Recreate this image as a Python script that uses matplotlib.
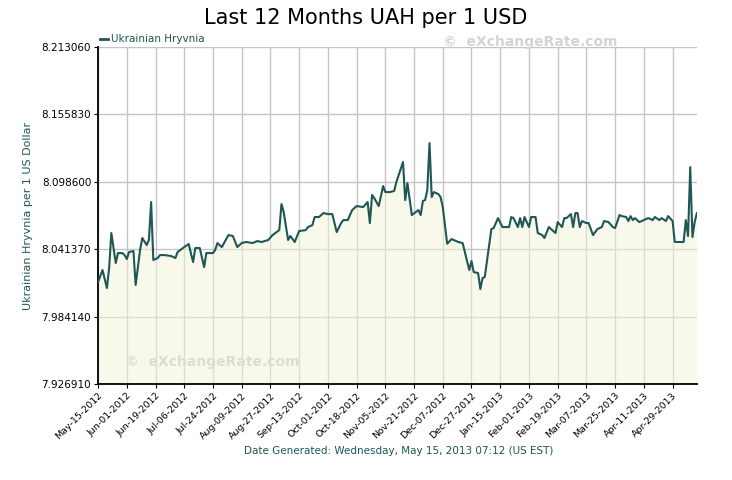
import numpy as np
import matplotlib
matplotlib.use('Agg')
import matplotlib.pyplot as plt

# session index (trading points) and UAH per USD rate
session = [0, 2, 4, 5, 6, 8, 9, 11, 12, 13, 14, 16, 17, 19, 20, 22, 23, 24, 25, 27,
           28, 30, 33, 35, 36, 39, 41, 43, 44, 46, 48, 49, 52, 53, 54, 56, 59, 61, 63, 65,
           67, 70, 72, 74, 77, 79, 82, 83, 84, 86, 87, 89, 91, 94, 95, 97, 98, 100, 102, 104,
           106, 108, 110, 111, 113, 115, 117, 120, 122, 123, 124, 125, 127, 129, 130, 132, 134, 135, 138, 139,
           140, 142, 145, 146, 147, 148, 149, 150, 151, 152, 154, 155, 156, 158, 160, 163, 165, 168, 169, 170,
           172, 173, 174, 175, 178, 179, 181, 183, 186, 187, 188, 190, 191, 192, 193, 195, 196, 198, 199, 201,
           202, 204, 207, 208, 210, 211, 212, 214, 215, 216, 217, 218, 219, 221, 222, 224, 226, 228, 229, 231,
           233, 234, 236, 237, 239, 240, 241, 242, 243, 245, 247, 249, 251, 252, 254, 255, 257, 258, 260, 261,
           265, 266, 267, 268, 269, 270, 271]
rate = [8.0135, 8.0237, 8.0084, 8.0254, 8.0551, 8.0296, 8.0381, 8.0381, 8.0364, 8.0330,
        8.0390, 8.0398, 8.0110, 8.0407, 8.0509, 8.0449, 8.0492, 8.0814, 8.0322, 8.0339,
        8.0364, 8.0364, 8.0356, 8.0339, 8.0390, 8.0432, 8.0458, 8.0305, 8.0424, 8.0424,
        8.0262, 8.0381, 8.0381, 8.0407, 8.0466, 8.0432, 8.0534, 8.0526, 8.0432, 8.0466,
        8.0475, 8.0466, 8.0483, 8.0475, 8.0492, 8.0534, 8.0576, 8.0797, 8.0729, 8.0492,
        8.0526, 8.0475, 8.0568, 8.0576, 8.0602, 8.0619, 8.0687, 8.0687, 8.0721, 8.0712,
        8.0712, 8.0559, 8.0636, 8.0661, 8.0661, 8.0746, 8.0780, 8.0772, 8.0814, 8.0636,
        8.0874, 8.0848, 8.0780, 8.0950, 8.0899, 8.0899, 8.0908, 8.0984, 8.1154, 8.0831,
        8.0975, 8.0704, 8.0746, 8.0704, 8.0823, 8.0831, 8.0916, 8.1315, 8.0857, 8.0899,
        8.0882, 8.0857, 8.0772, 8.0460, 8.0500, 8.0475, 8.0466, 8.0237, 8.0313, 8.0220,
        8.0211, 8.0076, 8.0169, 8.0177, 8.0585, 8.0593, 8.0678, 8.0602, 8.0602, 8.0687,
        8.0678, 8.0602, 8.0678, 8.0602, 8.0687, 8.0602, 8.0687, 8.0687, 8.0551, 8.0534,
        8.0509, 8.0602, 8.0551, 8.0644, 8.0602, 8.0678, 8.0678, 8.0712, 8.0602, 8.0721,
        8.0721, 8.0602, 8.0653, 8.0636, 8.0636, 8.0534, 8.0585, 8.0602, 8.0653, 8.0644,
        8.0602, 8.0593, 8.0704, 8.0695, 8.0687, 8.0653, 8.0695, 8.0661, 8.0678, 8.0644,
        8.0661, 8.0678, 8.0661, 8.0687, 8.0661, 8.0678, 8.0653, 8.0695, 8.0653, 8.0475,
        8.0475, 8.0661, 8.0526, 8.1111, 8.0517, 8.0644, 8.0721]

tick_labels = ['May-15-2012', 'Jun-01-2012', 'Jun-19-2012', 'Jul-06-2012', 'Jul-24-2012',
               'Aug-09-2012', 'Aug-27-2012', 'Sep-13-2012', 'Oct-01-2012', 'Oct-18-2012',
               'Nov-05-2012', 'Nov-21-2012', 'Dec-07-2012', 'Dec-27-2012', 'Jan-15-2013',
               'Feb-01-2013', 'Feb-19-2013', 'Mar-07-2013', 'Mar-25-2013', 'Apr-11-2013',
               'Apr-29-2013']
y_ticks = [7.926910, 7.984140, 8.041370, 8.098600, 8.155830, 8.213060]

teal = '#1f5656'

fig = plt.figure(figsize=(7.32, 4.8), dpi=100)
ax = fig.add_axes([0.134, 0.2, 0.818, 0.702])

ax.plot(session, rate, color=teal, lw=1.5, zorder=3)
ax.fill_between(session, rate, y_ticks[0], color='#f5f5d8', alpha=0.5, lw=0, zorder=2)

ax.set_xlim(0, 271)
ax.set_ylim(y_ticks[0], y_ticks[-1])
ax.set_xticks(np.arange(len(tick_labels)) * 13)
ax.set_xticklabels(tick_labels, rotation=45, ha='right', rotation_mode='anchor', fontsize=6.8)
ax.set_yticks(y_ticks)
ax.set_yticklabels([f'{v:.6f}' for v in y_ticks], fontsize=7.5)
ax.tick_params(axis='both', direction='out', length=3, width=0.8, colors='black', pad=2)

ax.grid(True, color='#c4c4c4', lw=1.0, zorder=1)
ax.set_axisbelow(True)
for s in ['top', 'right']:
    ax.spines[s].set_visible(False)
for s in ['left', 'bottom']:
    ax.spines[s].set_linewidth(1.3)

ax.set_ylabel('Ukrainian Hryvnia per 1 US Dollar', color=teal, fontsize=8, labelpad=6)

fig.text(0.5, 0.962, 'Last 12 Months UAH per 1 USD', ha='center', va='center', fontsize=15)
fig.text(0.545, 0.06, 'Date Generated: Wednesday, May 15, 2013 07:12 (US EST)',
         ha='center', va='center', fontsize=7.5, color=teal)

# legend entry above the plot
fig.lines.append(plt.Line2D([0.136, 0.148], [0.919, 0.919], color=teal, lw=2,
                            transform=fig.transFigure))
fig.text(0.152, 0.919, 'Ukrainian Hryvnia', ha='left', va='center', fontsize=7.5, color=teal)

# watermarks
fig.text(0.724, 0.913, '©  eXchangeRate.com', ha='center', va='center', fontsize=10,
         color='#d4d4d4', fontweight='bold')
ax.text(0.19, 0.065, '©  eXchangeRate.com', transform=ax.transAxes, ha='center', va='center',
        fontsize=10, color='#dedece', fontweight='bold', zorder=2)

fig.savefig('out.png', dpi=100)
